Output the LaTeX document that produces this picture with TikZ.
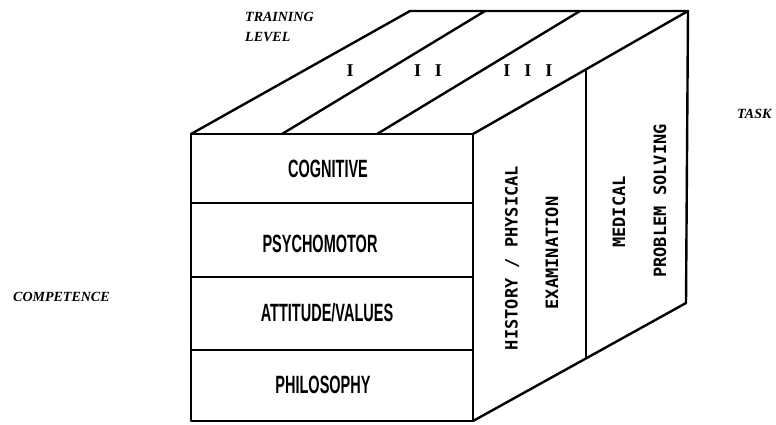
\documentclass[tikz,border=0pt]{standalone}
\usepackage{fontspec}
\setmainfont{Liberation Serif}
\newfontfamily\sansfnt{Liberation Sans}
\newfontfamily\monofnt{DejaVu Sans Mono}
\begin{document}
\begin{tikzpicture}[x=1pt,y=-1pt, line join=round, line cap=round,
  edge/.style={line width=2.4pt},
  thinedge/.style={line width=1.3pt},
  frontlab/.style={font=\sansfnt\bfseries\fontsize{25}{25}\selectfont, inner sep=0pt},
  sidelab/.style={font=\monofnt\bfseries\fontsize{17}{17}\selectfont, rotate=90, inner sep=0pt},
  axislab/.style={font=\bfseries\itshape\fontsize{14}{14}\selectfont, inner sep=0pt},
  levlab/.style={font=\bfseries\fontsize{18}{18}\selectfont, inner sep=0pt}]
\useasboundingbox (0,0) rectangle (776,424);
% corners
\coordinate (A) at (191,134);
\coordinate (B) at (473,134);
\coordinate (C) at (473,421);
\coordinate (D) at (191,421);
\coordinate (Ab) at (410,11);
\coordinate (Bb) at (688,11);
\coordinate (Cb) at (686,303);
% top stripes
\coordinate (s1f) at (282,134);
\coordinate (s1b) at (485,11);
\coordinate (s2f) at (377,134);
\coordinate (s2b) at (580,11);
% right face divider
\coordinate (rt) at (586,70);
\coordinate (rb) at (586,358);
% front dividers
\coordinate (d1l) at (191,203); \coordinate (d1r) at (473,203);
\coordinate (d2l) at (191,277); \coordinate (d2r) at (473,277);
\coordinate (d3l) at (191,350); \coordinate (d3r) at (473,350);

\draw[edge] (A) -- (B) -- (C) -- (D) -- cycle;
\draw[edge] (A) -- (Ab) -- (Bb) -- (Cb) -- (C);
\draw[edge] (B) -- (Bb);
\draw[edge] (s1f) -- (s1b);
\draw[edge] (s2f) -- (s2b);
\draw[edge] (d1l) -- (d1r);
\draw[edge] (d2l) -- (d2r);
\draw[edge] (d3l) -- (d3r);
\draw[thinedge] (rt) -- (rb);

% front labels
\node[frontlab] (cog) at (328,169) {\scalebox{0.58}[1]{COGNITIVE}};
\node[frontlab] (psy) at (320,244) {\scalebox{0.58}[1]{PSYCHOMOTOR}};
\node[frontlab] (att) at (327,313) {\scalebox{0.58}[1]{ATTITUDE/VALUES}};
\node[frontlab] (phi) at (323,385) {\scalebox{0.58}[1]{PHILOSOPHY}};

% side labels
\node[sidelab] (hist) at (512,258) {HISTORY / PHYSICAL};
\node[sidelab] (exam) at (552,253) {EXAMINATION};
\node[sidelab] (med) at (619,212) {MEDICAL};
\node[sidelab] (prob) at (660,201) {PROBLEM SOLVING};

% level labels
\node[levlab] (l1) at (350,71) {I};
\node[levlab] (l2) at (428,71) {I\hspace{14pt}I};
\node[levlab] (l3) at (528,71) {I\hspace{14pt}I\hspace{14pt}I};

% axis labels
\node[axislab, anchor=west] (tr) at (245,17) {TRAINING};
\node[axislab, anchor=west] (lv) at (245,37) {LEVEL};
\node[axislab, anchor=west] (comp) at (13,297) {COMPETENCE};
\node[axislab, anchor=west] (task) at (737,114) {TASK};
\end{tikzpicture}
\end{document}
